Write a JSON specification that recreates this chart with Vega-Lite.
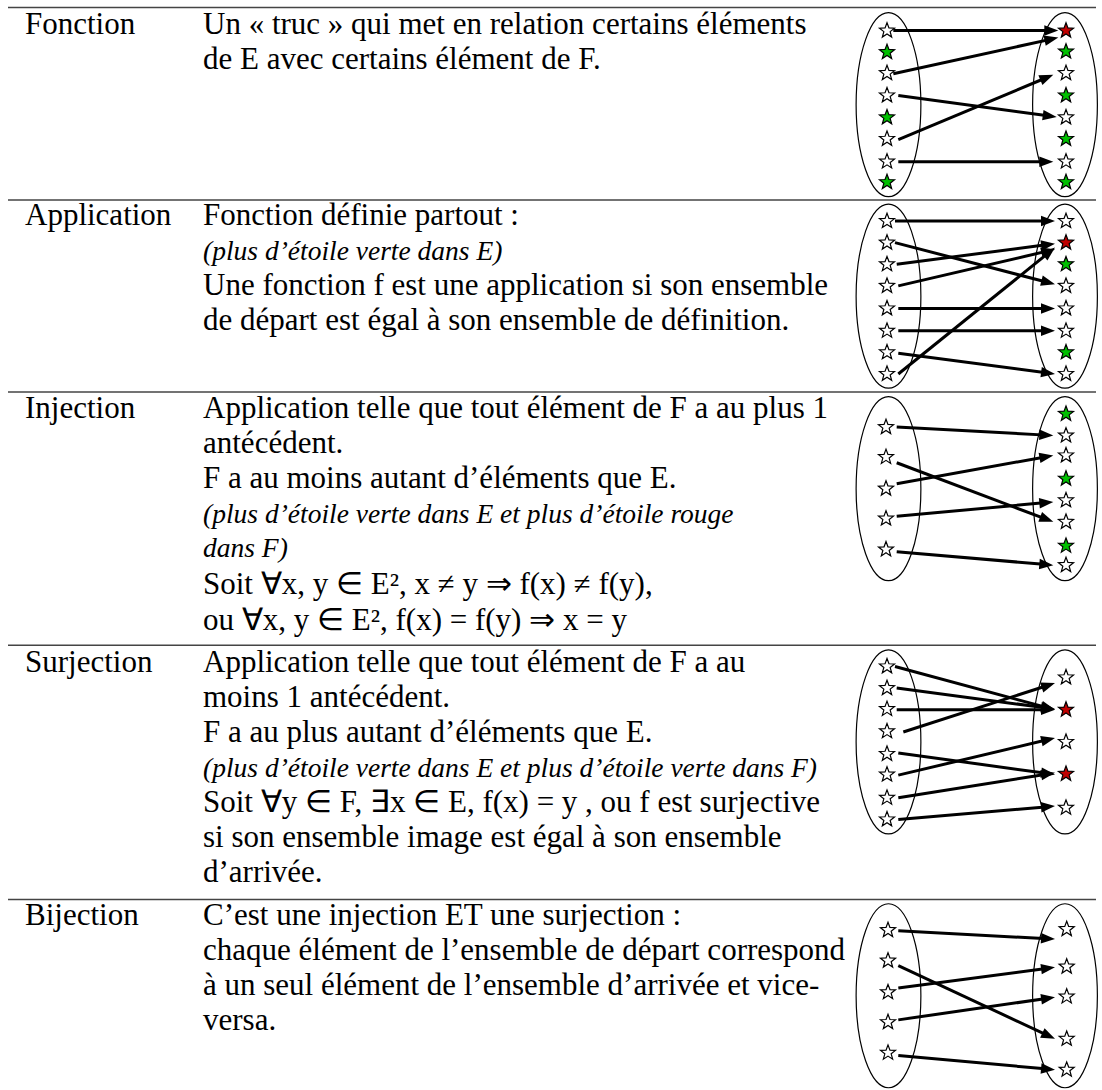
{
  "$schema": "https://vega.github.io/schema/vega-lite/v6.json",
  "width": 1102,
  "height": 1090,
  "autosize": {"type": "fit", "contains": "padding"},
  "padding": 0,
  "background": "white",
  "config": {"view": {"stroke": null}},
  "datasets": {
    "hlines": [
      {"y": 7.5, "xa": 8, "xb": 1096},
      {"y": 200.5, "xa": 8, "xb": 1096},
      {"y": 393, "xa": 8, "xb": 1096},
      {"y": 647, "xa": 8, "xb": 1096},
      {"y": 902, "xa": 8, "xb": 1096}
    ],
    "ellipses": [
      {"x": 888.5, "y": 105}, {"x": 1065, "y": 105},
      {"x": 888.5, "y": 297}, {"x": 1065, "y": 297},
      {"x": 888.5, "y": 490}, {"x": 1065, "y": 490},
      {"x": 888.5, "y": 744}, {"x": 1065, "y": 744},
      {"x": 888.5, "y": 998.5}, {"x": 1065, "y": 998.5}
    ],
    "stars": [
      {"x": 887, "y": 30.7, "k": "w"}, {"x": 887, "y": 52.3, "k": "g"}, {"x": 887, "y": 73.3, "k": "w"}, {"x": 887, "y": 95.7, "k": "w"},
      {"x": 887, "y": 117.7, "k": "g"}, {"x": 887, "y": 139.3, "k": "w"}, {"x": 887, "y": 162, "k": "w"}, {"x": 887, "y": 182.7, "k": "g"},
      {"x": 1066, "y": 30.7, "k": "r"}, {"x": 1066, "y": 51.7, "k": "g"}, {"x": 1066, "y": 73.3, "k": "w"}, {"x": 1066, "y": 95.7, "k": "g"},
      {"x": 1066, "y": 117.7, "k": "w"}, {"x": 1066, "y": 139.3, "k": "g"}, {"x": 1066, "y": 162, "k": "w"}, {"x": 1066, "y": 182.7, "k": "g"},

      {"x": 887, "y": 221.7, "k": "w"}, {"x": 887, "y": 243.3, "k": "w"}, {"x": 887, "y": 265, "k": "w"}, {"x": 887, "y": 286.7, "k": "w"},
      {"x": 887, "y": 309.3, "k": "w"}, {"x": 887, "y": 331.7, "k": "w"}, {"x": 887, "y": 353.3, "k": "w"}, {"x": 887, "y": 375, "k": "w"},
      {"x": 1066, "y": 221.7, "k": "w"}, {"x": 1066, "y": 243.3, "k": "r"}, {"x": 1066, "y": 265, "k": "g"}, {"x": 1066, "y": 286.7, "k": "w"},
      {"x": 1066, "y": 309.3, "k": "w"}, {"x": 1066, "y": 331.7, "k": "w"}, {"x": 1066, "y": 353.3, "k": "g"}, {"x": 1066, "y": 375, "k": "w"},

      {"x": 886, "y": 428.3, "k": "w"}, {"x": 886, "y": 458.3, "k": "w"}, {"x": 886, "y": 490, "k": "w"}, {"x": 886, "y": 520, "k": "w"}, {"x": 886, "y": 551, "k": "w"},
      {"x": 1066, "y": 415, "k": "g"}, {"x": 1066, "y": 436.7, "k": "w"}, {"x": 1066, "y": 456.7, "k": "w"}, {"x": 1066, "y": 480, "k": "g"},
      {"x": 1066, "y": 501.7, "k": "w"}, {"x": 1066, "y": 523.3, "k": "w"}, {"x": 1066, "y": 547.3, "k": "g"}, {"x": 1066, "y": 566.7, "k": "w"},

      {"x": 887, "y": 668.3, "k": "w"}, {"x": 887, "y": 690, "k": "w"}, {"x": 887, "y": 711, "k": "w"}, {"x": 887, "y": 733.3, "k": "w"},
      {"x": 887, "y": 756, "k": "w"}, {"x": 887, "y": 776.7, "k": "w"}, {"x": 887, "y": 800, "k": "w"}, {"x": 887, "y": 821.7, "k": "w"},
      {"x": 1066, "y": 679.3, "k": "w"}, {"x": 1066, "y": 711.7, "k": "r"}, {"x": 1066, "y": 744, "k": "w"}, {"x": 1066, "y": 776, "k": "r"}, {"x": 1066, "y": 810, "k": "w"},

      {"x": 888, "y": 932.7, "k": "w"}, {"x": 888, "y": 963.3, "k": "w"}, {"x": 888, "y": 995, "k": "w"}, {"x": 888, "y": 1025, "k": "w"}, {"x": 888, "y": 1055.7, "k": "w"},
      {"x": 1066.7, "y": 931.7, "k": "w"}, {"x": 1066.7, "y": 969.3, "k": "w"}, {"x": 1066.7, "y": 999.3, "k": "w"}, {"x": 1066.7, "y": 1041.7, "k": "w"}, {"x": 1066.7, "y": 1072.7, "k": "w"}
    ],
    "arrows": [
      {"x1": 893.3, "y1": 30.7, "x2": 1058.3, "y2": 30.7},
      {"x1": 893.3, "y1": 74, "x2": 1058.3, "y2": 37.7},
      {"x1": 898.3, "y1": 95.7, "x2": 1056.7, "y2": 117.3},
      {"x1": 898.3, "y1": 140, "x2": 1053.3, "y2": 75},
      {"x1": 898.3, "y1": 162.3, "x2": 1053.3, "y2": 162.3},

      {"x1": 895, "y1": 221.7, "x2": 1055, "y2": 221.7},
      {"x1": 895, "y1": 243.3, "x2": 1055, "y2": 285},
      {"x1": 896.7, "y1": 265, "x2": 1055, "y2": 244.3},
      {"x1": 898.3, "y1": 286.7, "x2": 1055, "y2": 250},
      {"x1": 898.3, "y1": 309.3, "x2": 1055, "y2": 309.3},
      {"x1": 898.3, "y1": 331.7, "x2": 1055, "y2": 331.7},
      {"x1": 898.3, "y1": 354.3, "x2": 1055, "y2": 375},
      {"x1": 898.3, "y1": 375, "x2": 1055, "y2": 248.3},

      {"x1": 896.7, "y1": 428.3, "x2": 1053.3, "y2": 436.7},
      {"x1": 896.7, "y1": 464, "x2": 1053.3, "y2": 523.3},
      {"x1": 896.7, "y1": 485, "x2": 1053.3, "y2": 456.7},
      {"x1": 896.7, "y1": 517.7, "x2": 1053.3, "y2": 503.3},
      {"x1": 896.7, "y1": 553.3, "x2": 1053.3, "y2": 566.7},

      {"x1": 895, "y1": 668.3, "x2": 1055, "y2": 711.7},
      {"x1": 896.7, "y1": 690, "x2": 1055, "y2": 711},
      {"x1": 896.7, "y1": 711.7, "x2": 1055, "y2": 711.7},
      {"x1": 903.3, "y1": 734, "x2": 1055, "y2": 685},
      {"x1": 898.3, "y1": 755, "x2": 1055, "y2": 776.7},
      {"x1": 898.3, "y1": 777.3, "x2": 1055, "y2": 740},
      {"x1": 898.3, "y1": 800, "x2": 1055, "y2": 775},
      {"x1": 898.3, "y1": 821.7, "x2": 1055, "y2": 808.3},

      {"x1": 898.3, "y1": 933.3, "x2": 1055, "y2": 941.7},
      {"x1": 898.3, "y1": 968.3, "x2": 1055, "y2": 1041.7},
      {"x1": 898.3, "y1": 990.7, "x2": 1055, "y2": 970},
      {"x1": 898.3, "y1": 1022.7, "x2": 1055, "y2": 1000},
      {"x1": 898.3, "y1": 1058.3, "x2": 1055, "y2": 1072.7}
    ],
    "texts": [
      {"x": 25, "y": 34, "t": "Fonction", "it": false},
      {"x": 203, "y": 34, "t": "Un « truc » qui met en relation certains éléments", "it": false},
      {"x": 203, "y": 69, "t": "de E avec certains élément de F.", "it": false},

      {"x": 25, "y": 226, "t": "Application", "it": false},
      {"x": 203, "y": 226, "t": "Fonction définie partout :", "it": false},
      {"x": 203, "y": 261, "t": "(plus d’étoile verte dans E)", "it": true},
      {"x": 203, "y": 296, "t": "Une fonction f est une application si son ensemble", "it": false},
      {"x": 203, "y": 331, "t": "de départ est égal à son ensemble de définition.", "it": false},

      {"x": 25, "y": 419, "t": "Injection", "it": false},
      {"x": 203, "y": 419, "t": "Application telle que tout élément de F a au plus 1", "it": false},
      {"x": 203, "y": 454, "t": "antécédent.", "it": false},
      {"x": 203, "y": 489, "t": "F a au moins autant d’éléments que E.", "it": false},
      {"x": 203, "y": 524, "t": "(plus  d’étoile  verte  dans  E  et  plus  d’étoile  rouge", "it": true},
      {"x": 203, "y": 559, "t": "dans F)", "it": true},
      {"x": 203, "y": 596, "t": "Soit ∀x, y ∈ E², x ≠ y ⇒ f(x) ≠ f(y),", "it": false},
      {"x": 203, "y": 632, "t": "ou ∀x, y ∈ E², f(x) = f(y) ⇒ x = y", "it": false},

      {"x": 25, "y": 674, "t": "Surjection", "it": false},
      {"x": 203, "y": 674, "t": "Application telle que tout élément de F a au", "it": false},
      {"x": 203, "y": 709, "t": "moins 1 antécédent.", "it": false},
      {"x": 203, "y": 744, "t": "F a au plus autant d’éléments que E.", "it": false},
      {"x": 203, "y": 779, "t": "(plus d’étoile verte dans E et plus d’étoile verte dans F)", "it": true},
      {"x": 203, "y": 814, "t": "Soit ∀y ∈ F, ∃x ∈ E, f(x) = y , ou f est surjective", "it": false},
      {"x": 203, "y": 849, "t": "si son ensemble image est égal à son ensemble", "it": false},
      {"x": 203, "y": 884, "t": "d’arrivée.", "it": false},

      {"x": 25, "y": 928, "t": "Bijection", "it": false},
      {"x": 203, "y": 928, "t": "C’est une injection ET une surjection :", "it": false},
      {"x": 203, "y": 963, "t": "chaque élément de l’ensemble de départ correspond", "it": false},
      {"x": 203, "y": 998, "t": "à un seul élément de l’ensemble d’arrivée et vice-", "it": false},
      {"x": 203, "y": 1033, "t": "versa.", "it": false}
    ]
  },
  "layer": [
    {
      "data": {"name": "hlines"},
      "mark": {"type": "rule", "stroke": "#444444", "strokeWidth": 1.5},
      "encoding": {
        "x": {"field": "xa", "type": "quantitative", "scale": {"domain": [0, 1102], "nice": false, "zero": false}, "axis": null},
        "x2": {"field": "xb"},
        "y": {"field": "y", "type": "quantitative", "scale": {"domain": [0, 1090], "nice": false, "zero": false, "reverse": true}, "axis": null}
      }
    },
    {
      "data": {"name": "ellipses"},
      "mark": {"type": "point", "shape": "M0,-1C0.1944,-1,0.352,-0.5523,0.352,0C0.352,0.5523,0.1944,1,0,1C-0.1944,1,-0.352,0.5523,-0.352,0C-0.352,-0.5523,-0.1944,-1,0,-1Z", "size": 33856, "filled": false, "stroke": "black", "strokeWidth": 1.2, "opacity": 1},
      "encoding": {
        "x": {"field": "x", "type": "quantitative", "axis": null},
        "y": {"field": "y", "type": "quantitative", "axis": null}
      }
    },
    {
      "data": {"name": "arrows"},
      "transform": [
        {"calculate": "atan2(datum.y2 - datum.y1, datum.x2 - datum.x1)", "as": "ang"},
        {"calculate": "datum.x2 - 7 * cos(datum.ang)", "as": "hx"},
        {"calculate": "datum.y2 - 7 * sin(datum.ang)", "as": "hy"}
      ],
      "mark": {"type": "rule", "stroke": "black", "strokeWidth": 3},
      "encoding": {
        "x": {"field": "x1", "type": "quantitative", "axis": null},
        "y": {"field": "y1", "type": "quantitative", "axis": null},
        "x2": {"field": "hx"},
        "y2": {"field": "hy"}
      }
    },
    {
      "data": {"name": "arrows"},
      "transform": [
        {"calculate": "atan2(datum.y2 - datum.y1, datum.x2 - datum.x1)", "as": "ang"},
        {"calculate": "datum.x2 - 7 * cos(datum.ang)", "as": "hx"},
        {"calculate": "datum.y2 - 7 * sin(datum.ang)", "as": "hy"},
        {"calculate": "datum.ang * 180 / PI", "as": "deg"}
      ],
      "mark": {"type": "point", "shape": "M1,0L-1,-0.75L-1,0.75Z", "size": 196, "filled": true, "fill": "black", "stroke": null, "opacity": 1},
      "encoding": {
        "x": {"field": "hx", "type": "quantitative", "axis": null},
        "y": {"field": "hy", "type": "quantitative", "axis": null},
        "angle": {"field": "deg", "type": "quantitative", "scale": null}
      }
    },
    {
      "data": {"name": "stars"},
      "mark": {"type": "point", "shape": "M0,-1L0.247,-0.34L0.951,-0.309L0.399,0.13L0.588,0.809L0,0.42L-0.588,0.809L-0.399,0.13L-0.951,-0.309L-0.247,-0.34Z", "size": 250, "filled": true, "stroke": "black", "strokeWidth": 1.2, "opacity": 1},
      "encoding": {
        "x": {"field": "x", "type": "quantitative", "axis": null},
        "y": {"field": "y", "type": "quantitative", "axis": null},
        "fill": {"field": "k", "type": "nominal", "scale": {"domain": ["w", "g", "r"], "range": ["#ffffff", "#00c000", "#c00000"]}, "legend": null}
      }
    },
    {
      "data": {"name": "texts"},
      "transform": [{"filter": "!datum.it"}],
      "mark": {"type": "text", "align": "left", "baseline": "alphabetic", "font": "Liberation Serif", "fontSize": 31, "color": "black"},
      "encoding": {
        "x": {"field": "x", "type": "quantitative", "axis": null},
        "y": {"field": "y", "type": "quantitative", "axis": null},
        "text": {"field": "t"}
      }
    },
    {
      "data": {"name": "texts"},
      "transform": [{"filter": "datum.it"}],
      "mark": {"type": "text", "align": "left", "baseline": "alphabetic", "font": "Liberation Serif", "fontStyle": "italic", "fontSize": 27.5, "color": "black"},
      "encoding": {
        "x": {"field": "x", "type": "quantitative", "axis": null},
        "y": {"field": "y", "type": "quantitative", "axis": null},
        "text": {"field": "t"}
      }
    }
  ]
}
